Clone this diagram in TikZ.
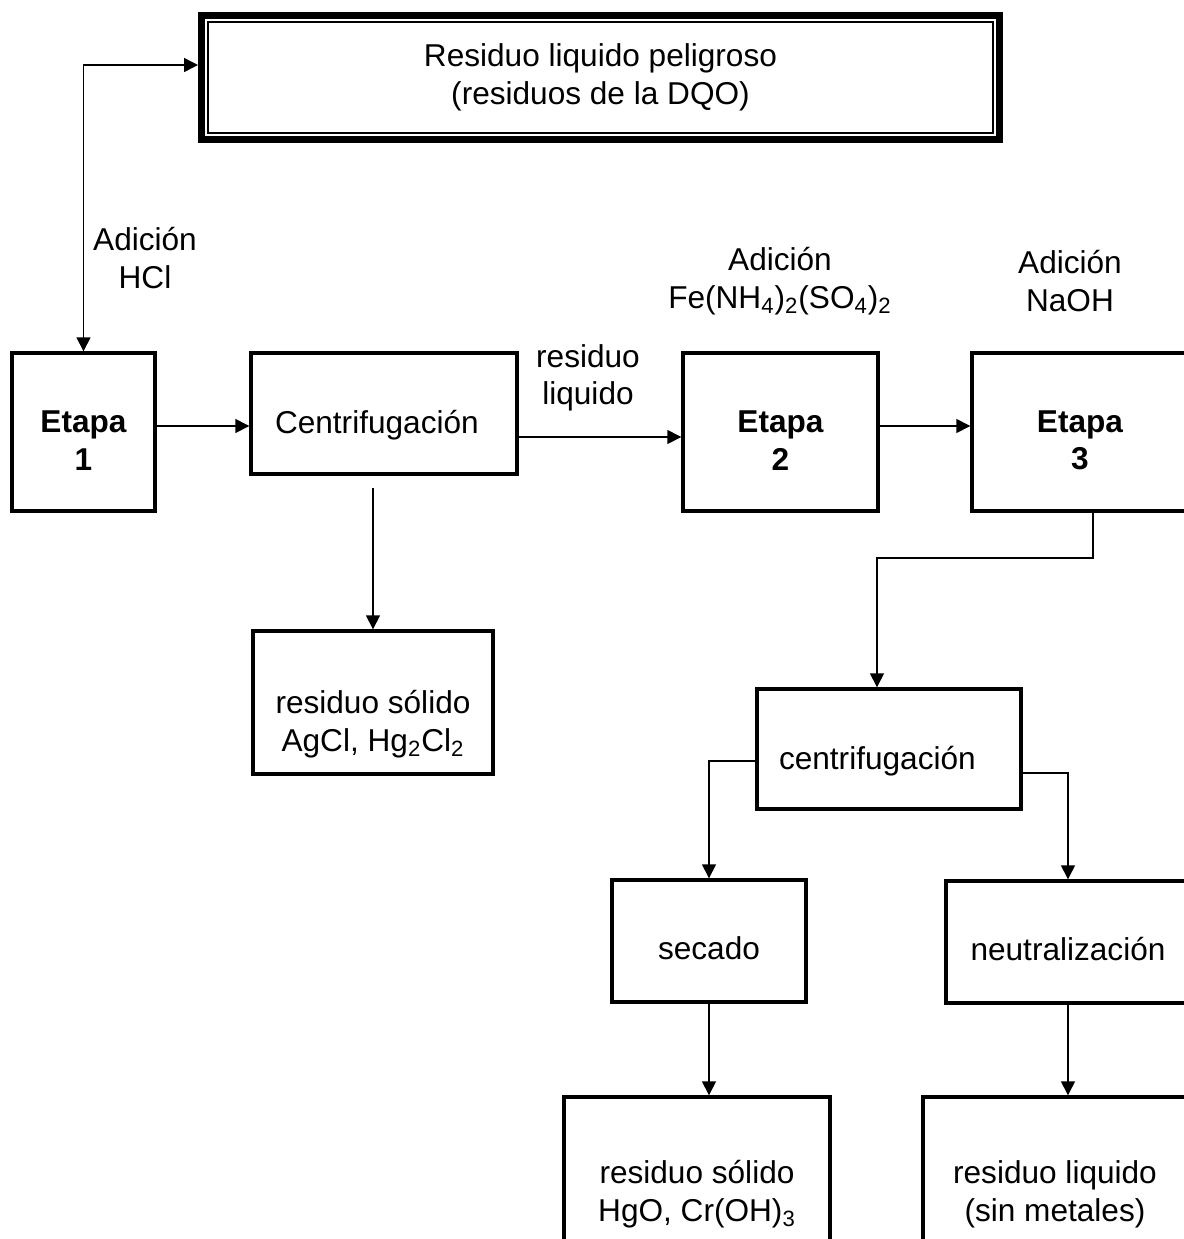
\documentclass[tikz,border=0pt]{standalone}
\usepackage{fontspec}
\setmainfont{Liberation Sans}
\usetikzlibrary{positioning, arrows.meta, calc}
\newcommand{\flowfont}{\fontsize{15.8pt}{18.7pt}\selectfont}

\begin{document}
\begin{tikzpicture}[
	x=0.5pt, y=-0.5pt,
	% --- Styles ---
	flowtip/.tip={Triangle[length=7pt, width=7pt]},
	stepbox/.style={
		rectangle, draw, line width=1.7pt, inner sep=0pt, align=center, font=\flowfont\bfseries
	},
	procbox/.style={
		rectangle, draw, line width=1.7pt, inner sep=0pt, align=center, font=\flowfont
	},
	line/.style={
		draw, line width=0.75pt, -flowtip
	},
	addlabel/.style={
		align=center, font=\flowfont, inner sep=0pt
	}
	]
	\useasboundingbox (0,0) rectangle (1184,1239);
	
	% --- 1. Waste box (double frame) ---
	\node [procbox, line width=3.5pt, minimum width=399pt, minimum height=62pt] (waste) at (600.5,77.5) {Residuo liquido peligroso\\(residuos de la DQO)};
	\draw [line width=0.9pt] ([shift={(5pt,-5pt)}]waste.north west) rectangle ([shift={(-5pt,5pt)}]waste.south east);
	
	% --- 2. Main row ---
	% text sits a little low in the boxes, hence the text heights
	\node [stepbox, minimum width=71.5pt, minimum height=79pt, text height=38pt] (etapa1) at (83.5,432) {Etapa\\1};
	\node [procbox, align=left, text width=109pt, inner xsep=12pt, minimum height=60.5pt, text height=23.3pt] (centrif1) at (384,413.5) {Centrifugación};
	\node [stepbox, minimum width=97.5pt, minimum height=79pt, text height=38pt] (etapa2) at (780.5,432) {Etapa\\2};
	\node [stepbox, minimum width=108pt, minimum height=79pt, text height=38pt] (etapa3) at (1080,432) {Etapa\\3};
	
	% Additions
	\node [addlabel] (hcl) at (145,258) {Adición\\HCl};
	\node [addlabel] (liqlabel) at (588,378) {residuo\\liquido};
	\node [addlabel] (fe) at (780,281) {Adición\\Fe(NH\textsubscript{4})\textsubscript{2}(SO\textsubscript{4})\textsubscript{2}};
	\node [addlabel] (naoh) at (1070,281) {Adición\\NaOH};
	
	% --- 3. Solid residue of stage 1 ---
	\node [procbox, minimum width=120pt, minimum height=71.5pt, text height=52pt] (solido1) at (373,702.5) {residuo sólido\\AgCl, Hg\textsubscript{2}Cl\textsubscript{2}};
	
	% --- 4. Stage 3 branch ---
	\node [procbox, align=left, text width=110pt, inner xsep=11pt, minimum height=60pt, text height=23.3pt] (centrif2) at (889,749) {centrifugación};
	\node [procbox, minimum width=97pt, minimum height=61pt, text height=18.5pt] (secado) at (709,941) {secado};
	\node [procbox, minimum width=122pt, minimum height=61pt, text height=18.3pt] (neutral) at (1068,942) {neutralización};
	\node [procbox, minimum width=133pt, minimum height=93pt, text height=34.3pt] (solido2) at (697,1190) {residuo sólido\\HgO, Cr(OH)\textsubscript{3}};
	\node [procbox, minimum width=132pt, minimum height=93pt, text height=34.3pt] (liquido2) at (1055,1190) {residuo liquido\\(sin metales)};
	
	% --- Connections ---
	\coordinate (hcl_y) at (0,65);
	\coordinate (row_y) at (0,426);
	\coordinate (liq_y) at (0,437);
	\draw [line, flowtip-flowtip] (waste.west |- hcl_y) -| (etapa1.north);
	\draw [line] (etapa1.east |- row_y) -- (centrif1.west |- row_y);
	\draw [line] (centrif1.east |- liq_y) -- (etapa2.west |- liq_y);
	\draw [line] (etapa2.east |- row_y) -- (etapa3.west |- row_y);
	\draw [line] ([yshift=-6pt]centrif1.south -| solido1.north) -- (solido1.north);
	
	% Stage 3 to second centrifuge
	\coordinate (bend3) at (1093,558);
	\draw [line] (etapa3.south -| bend3) -- (bend3) -| ([xshift=-6pt]centrif2.north);
	
	% Split after centrifuge
	\coordinate (split_l) at (0,761);
	\coordinate (split_r) at (0,773);
	\draw [line] (centrif2.west |- split_l) -| (secado.north);
	\draw [line] (centrif2.east |- split_r) -| (neutral.north);
	\draw [line] (secado.south) -- (secado.south |- solido2.north);
	\draw [line] (neutral.south) -- (neutral.south |- liquido2.north);
	
\end{tikzpicture}
\end{document}
